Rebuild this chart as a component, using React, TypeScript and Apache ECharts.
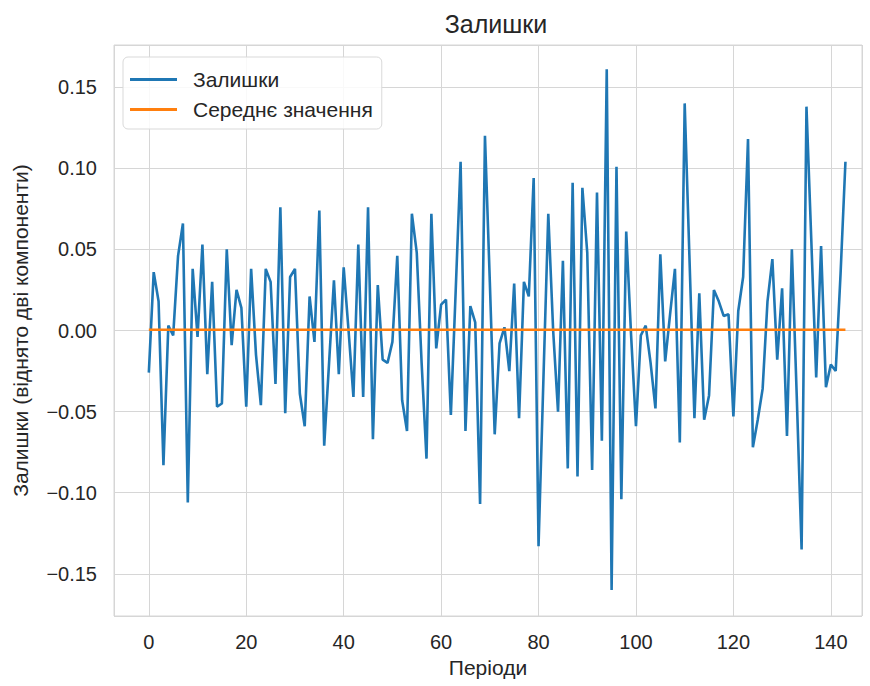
import React, { useEffect, useRef } from "react";
import * as echarts from "echarts";

const TITLE = "Залишки";
const X_NAME = "Періоди";
const Y_NAME = "Залишки (віднято дві компоненти)";
const SERIES_NAMES = ["Залишки", "Середнє значення"];

// residual values for periods 0..143
const residuals = [
  -0.026, 0.036, 0.018, -0.083, 0.003, -0.003, 0.046, 0.066, -0.106, 0.038,
  -0.004, 0.053, -0.027, 0.030, -0.047, -0.045, 0.050, -0.009, 0.025, 0.014,
  -0.047, 0.038, -0.015, -0.046, 0.038, 0.030, -0.033, 0.076, -0.051, 0.033,
  0.038, -0.039, -0.059, 0.021, -0.007, 0.074, -0.071, -0.020, 0.031, -0.027,
  0.039, 0.000, -0.041, 0.053, -0.041, 0.076, -0.067, 0.028, -0.018, -0.020,
  -0.007, 0.046, -0.043, -0.062, 0.072, 0.048, -0.020, -0.079, 0.072, -0.011,
  0.016, 0.019, -0.052, 0.025, 0.104, -0.062, 0.015, 0.005, -0.107, 0.120,
  0.030, -0.064, -0.008, 0.002, -0.025, 0.029, -0.054, 0.030, 0.021, 0.094,
  -0.133, -0.030, 0.072, 0.000, -0.050, 0.043, -0.085, 0.091, -0.090, 0.088,
  0.048, -0.086, 0.085, -0.068, 0.161, -0.160, 0.101, -0.104, 0.061, -0.003,
  -0.059, -0.003, 0.003, -0.020, -0.048, 0.047, -0.019, 0.010, 0.038, -0.069,
  0.140, 0.043, -0.054, 0.023, -0.055, -0.040, 0.025, 0.018, 0.009, 0.010,
  -0.053, 0.012, 0.033, 0.118, -0.072, -0.055, -0.036, 0.018, 0.044, -0.018,
  0.026, -0.065, 0.050, -0.040, -0.135, 0.138, 0.055, -0.029, 0.052, -0.035,
  -0.021, -0.025, 0.035, 0.104,
];

const meanValue = 0.0005;
const meanRange = [0, 143];

const X_MIN = -7.15;
const X_MAX = 146.4;
const Y_MIN = -0.176;
const Y_MAX = 0.176;

const FONT = "'Liberation Sans', Arial, sans-serif";
const TEXT = "#262626";
const GRID = "#d6d6d6";

export default function App() {
  const ref = useRef<HTMLDivElement>(null);
  useEffect(() => {
    document.body.style.margin = "0";
    if (!ref.current) return;
    const chart = echarts.init(ref.current, undefined, { renderer: "svg" });
    const fmtY = (v: number) => {
      const s = Math.abs(v).toFixed(2);
      return v < -1e-9 ? "\u2212" + s : s;
    };
    chart.setOption({
      animation: false,
      backgroundColor: "#ffffff",
      textStyle: { fontFamily: FONT, color: TEXT },
      grid: {
        left: 114,
        right: 8,
        top: 45,
        bottom: 70,
        show: true,
        borderColor: GRID,
        borderWidth: 1,
        backgroundColor: "transparent",
      },
      graphic: [
        {
          type: "text",
          x: 496,
          y: 24,
          style: {
            text: TITLE,
            font: `25px ${FONT}`,
            fill: TEXT,
            align: "center",
            verticalAlign: "middle",
          },
        },
      ],
      legend: {
        orient: "vertical",
        left: 123,
        top: 57,
        padding: [12, 9, 9, 7],
        itemGap: 9,
        itemWidth: 47,
        itemHeight: 3,
        icon: "rect",
        backgroundColor: "rgba(255,255,255,0.85)",
        borderColor: "#d9d9d9",
        borderWidth: 1,
        borderRadius: 5,
        textStyle: {
          fontFamily: FONT,
          fontSize: 21,
          color: TEXT,
          padding: [0, 0, 0, 11],
          lineHeight: 20,
        },
        data: SERIES_NAMES,
      },
      xAxis: {
        type: "value",
        min: X_MIN,
        max: X_MAX,
        splitNumber: 8,
        minInterval: 20,
        maxInterval: 20,
        name: X_NAME,
        nameLocation: "middle",
        nameGap: 41,
        nameTextStyle: { fontFamily: FONT, fontSize: 21, color: TEXT },
        axisLine: { show: false },
        axisTick: { show: false },
        axisLabel: {
          margin: 16,
          fontFamily: FONT,
          fontSize: 20,
          color: TEXT,
          showMinLabel: false,
          showMaxLabel: false,
          formatter: (v: number) => String(Math.round(v)),
        },
        splitLine: { show: true, lineStyle: { color: GRID, width: 1 } },
      },
      yAxis: {
        type: "value",
        min: Y_MIN,
        max: Y_MAX,
        splitNumber: 7,
        minInterval: 0.05,
        maxInterval: 0.05,
        name: Y_NAME,
        nameLocation: "middle",
        nameRotate: 90,
        nameGap: 83,
        nameTextStyle: { fontFamily: FONT, fontSize: 21, color: TEXT },
        axisLine: { show: false },
        axisTick: { show: false },
        axisLabel: {
          margin: 17,
          fontFamily: FONT,
          fontSize: 20,
          color: TEXT,
          showMinLabel: false,
          showMaxLabel: false,
          formatter: fmtY,
        },
        splitLine: { show: true, lineStyle: { color: GRID, width: 1 } },
      },
      series: [
        {
          name: SERIES_NAMES[0],
          type: "line",
          showSymbol: false,
          symbol: "none",
          data: residuals.map((v, i) => [i, v]),
          lineStyle: { color: "#1f77b4", width: 2.6 },
          itemStyle: { color: "#1f77b4" },
          z: 2,
        },
        {
          name: SERIES_NAMES[1],
          type: "line",
          showSymbol: false,
          symbol: "none",
          data: meanRange.map((x) => [x, meanValue]),
          lineStyle: { color: "#ff7f0e", width: 2.6 },
          itemStyle: { color: "#ff7f0e" },
          z: 3,
        },
      ],
    });
    return () => chart.dispose();
  }, []);
  return <div ref={ref} style={{ width: 870, height: 686 }} />;
}
